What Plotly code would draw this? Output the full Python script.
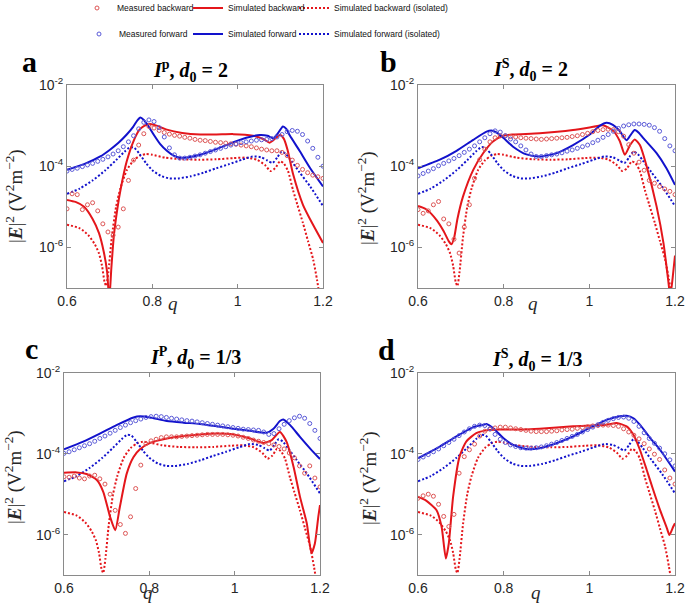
import plotly.graph_objects as go

# ---------------- data (values are log10 of |E|^2 in V^2 m^-2) ----------------
# measurement grid (q)
Q_MEAS = [0.600, 0.612, 0.624, 0.636, 0.648, 0.660, 0.672, 0.684, 0.696, 0.708,
          0.720, 0.732, 0.744, 0.756, 0.768, 0.780, 0.792, 0.804, 0.816, 0.828,
          0.840, 0.852, 0.864, 0.876, 0.888, 0.900, 0.912, 0.924, 0.936, 0.948,
          0.960, 0.972, 0.984, 0.996, 1.008, 1.020, 1.032, 1.044, 1.056, 1.068,
          1.080, 1.092, 1.104, 1.116, 1.128, 1.140, 1.152, 1.164, 1.176, 1.188,
          1.200]

# measured forward / backward, panels a-d
MF_A = [-4.12, -4.08, -4.05, -4.01, -3.97, -3.93, -3.88, -3.83, -3.77, -3.70,
        -3.62, -3.52, -3.40, -3.25, -3.08, -2.92, -2.86, -2.90, -3.05, -3.28,
        -3.55, -3.72, -3.80, -3.80, -3.78, -3.75, -3.72, -3.68, -3.64, -3.60,
        -3.56, -3.52, -3.48, -3.45, -3.42, -3.40, -3.38, -3.36, -3.35, -3.34,
        -3.32, -3.28, -3.22, -3.15, -3.12, -3.14, -3.22, -3.38, -3.56, -3.78,
        -4.00]
MB_A = [-5.05, -4.68, -4.70, -5.07, -4.95, -4.90, -5.10, -5.42, -5.62, -5.70,
        -5.50, -5.05, -4.35, -3.85, -3.48, -3.20, -3.02, -3.06, -3.12, -3.17,
        -3.21, -3.24, -3.26, -3.29, -3.31, -3.34, -3.36, -3.37, -3.39, -3.41,
        -3.42, -3.43, -3.45, -3.46, -3.48, -3.50, -3.52, -3.55, -3.58, -3.60,
        -3.62, -3.62, -3.66, -3.74, -3.85, -3.98, -4.08, -4.16, -4.22, -4.26,
        -4.30]
MF_B = [-4.24, -4.18, -4.12, -4.06, -3.99, -3.93, -3.87, -3.81, -3.74, -3.66,
        -3.58, -3.50, -3.40, -3.30, -3.20, -3.13, -3.16, -3.25, -3.33, -3.40,
        -3.50, -3.60, -3.70, -3.76, -3.76, -3.74, -3.72, -3.70, -3.67, -3.63,
        -3.60, -3.56, -3.52, -3.48, -3.42, -3.36, -3.29, -3.22, -3.14, -3.07,
        -3.01, -2.98, -2.96, -2.96, -2.97, -2.99, -3.05, -3.14, -3.32, -3.50,
        -3.62]
MB_B = [-5.07, -5.16, -5.10, -4.95, -4.87, -5.30, -5.42, -5.80, -6.14, -5.50,
        -4.95, -4.30, -3.84, -3.58, -3.40, -3.30, -3.25, -3.25, -3.27, -3.28,
        -3.30, -3.31, -3.32, -3.33, -3.34, -3.33, -3.32, -3.31, -3.30, -3.29,
        -3.27, -3.25, -3.22, -3.19, -3.15, -3.12, -3.10, -3.09, -3.10, -3.15,
        -3.26, -3.47, -3.68, -3.90, -4.10, -4.35, -4.42, -4.50, -4.56, -4.62,
        -4.70]
MF_C = [-3.99, -3.95, -3.90, -3.85, -3.80, -3.75, -3.69, -3.62, -3.56, -3.49,
        -3.42, -3.35, -3.29, -3.23, -3.18, -3.14, -3.10, -3.08, -3.07, -3.08,
        -3.10, -3.12, -3.14, -3.16, -3.18, -3.19, -3.21, -3.23, -3.25, -3.27,
        -3.29, -3.31, -3.33, -3.35, -3.37, -3.39, -3.40, -3.41, -3.42, -3.46,
        -3.52, -3.50, -3.38, -3.27, -3.18, -3.11, -3.07, -3.12, -3.25, -3.42,
        -3.62]
MB_C = [-4.57, -4.58, -4.55, -4.60, -4.62, -4.55, -4.53, -4.62, -4.75, -5.00,
        -5.40, -5.75, -5.97, -5.56, -4.86, -4.28, -3.75, -3.68, -3.64, -3.60,
        -3.58, -3.58, -3.58, -3.57, -3.56, -3.55, -3.54, -3.53, -3.52, -3.52,
        -3.52, -3.52, -3.53, -3.54, -3.56, -3.59, -3.62, -3.66, -3.69, -3.72,
        -3.75, -3.78, -3.82, -3.88, -3.98, -4.10, -4.30, -4.48, -4.30, -4.60,
        -4.82]
MF_D = [-4.14, -4.08, -4.02, -3.95, -3.88, -3.80, -3.72, -3.64, -3.55, -3.46,
        -3.38, -3.32, -3.29, -3.30, -3.38, -3.52, -3.64, -3.72, -3.78, -3.82,
        -3.85, -3.86, -3.86, -3.85, -3.83, -3.80, -3.76, -3.72, -3.67, -3.62,
        -3.57, -3.52, -3.46, -3.40, -3.34, -3.28, -3.22, -3.17, -3.13, -3.10,
        -3.09, -3.12, -3.20, -3.32, -3.48, -3.62, -3.74, -3.86, -4.00, -4.15,
        -4.30]
MB_D = [-5.10, -5.04, -5.00, -5.05, -5.25, -5.55, -5.80, -5.50, -4.48, -4.07,
        -3.90, -3.76, -3.56, -3.44, -3.39, -3.36, -3.34, -3.34, -3.36, -3.38,
        -3.40, -3.42, -3.44, -3.45, -3.45, -3.45, -3.44, -3.43, -3.41, -3.40,
        -3.39, -3.37, -3.35, -3.33, -3.31, -3.30, -3.29, -3.29, -3.30, -3.32,
        -3.38, -3.46, -3.54, -3.63, -3.75, -3.88, -4.01, -4.14, -4.40, -4.60,
        -4.75]

# simulated isolated particle (same in every panel)
Q_ISO_B = [0.600, 0.630, 0.650, 0.665, 0.675, 0.682, 0.688, 0.692, 0.697, 0.705,
           0.715, 0.725, 0.740, 0.756, 0.771, 0.785, 0.800, 0.830, 0.870, 0.910,
           0.950, 0.990, 1.020, 1.045, 1.065, 1.077, 1.088, 1.099, 1.108, 1.118,
           1.130, 1.140, 1.153, 1.165, 1.177, 1.186, 1.192]
ISO_B = [-5.44, -5.53, -5.70, -5.92, -6.15, -6.45, -6.85, -6.95, -6.60, -5.75,
         -5.00, -4.55, -4.10, -3.86, -3.74, -3.70, -3.72, -3.79, -3.83, -3.84,
         -3.83, -3.80, -3.79, -3.84, -3.98, -4.12, -4.05, -3.88, -3.93, -4.12,
         -4.60, -4.95, -5.40, -5.85, -6.30, -6.80, -7.20]
Q_ISO_F = [0.600, 0.630, 0.660, 0.690, 0.715, 0.735, 0.748, 0.758, 0.770, 0.785,
           0.800, 0.820, 0.840, 0.860, 0.890, 0.920, 0.950, 0.980, 1.010, 1.035,
           1.055, 1.070, 1.082, 1.093, 1.103, 1.113, 1.125, 1.145, 1.170, 1.200]
ISO_F = [-4.68, -4.55, -4.35, -4.10, -3.85, -3.64, -3.53, -3.55, -3.70, -3.92,
         -4.10, -4.24, -4.30, -4.30, -4.25, -4.16, -4.05, -3.95, -3.84, -3.76,
         -3.78, -3.86, -3.92, -3.78, -3.64, -3.70, -3.86, -4.15, -4.50, -4.98]

# simulated forward / backward (coupled), panels a-d
Q_SF_A = [0.600, 0.640, 0.678, 0.700, 0.720, 0.740, 0.755, 0.765, 0.772, 0.780,
          0.790, 0.803, 0.818, 0.834, 0.850, 0.865, 0.885, 0.912, 0.950, 0.990,
          1.020, 1.052, 1.070, 1.083, 1.095, 1.106, 1.114, 1.122, 1.145, 1.170,
          1.200]
SF_A = [-4.09, -3.95, -3.76, -3.60, -3.43, -3.22, -3.03, -2.87, -2.80, -2.86,
        -3.00, -3.22, -3.45, -3.62, -3.74, -3.79, -3.78, -3.72, -3.58, -3.41,
        -3.30, -3.23, -3.25, -3.31, -3.18, -3.02, -3.08, -3.24, -3.62, -4.05,
        -4.50]
Q_SB_A = [0.600, 0.620, 0.640, 0.660, 0.675, 0.686, 0.694, 0.699, 0.704, 0.710,
          0.718, 0.726, 0.740, 0.756, 0.770, 0.782, 0.795, 0.810, 0.834, 0.870,
          0.912, 0.950, 0.990, 1.036, 1.060, 1.075, 1.090, 1.099, 1.108, 1.117,
          1.130, 1.153, 1.177, 1.200]
SB_A = [-4.83, -4.88, -5.00, -5.30, -5.65, -6.10, -6.60, -7.30, -6.50, -5.70,
        -5.05, -4.55, -3.88, -3.38, -3.10, -3.00, -2.96, -3.00, -3.10, -3.18,
        -3.22, -3.22, -3.21, -3.25, -3.33, -3.42, -3.30, -3.23, -3.32, -3.60,
        -4.20, -4.95, -5.45, -5.89]

Q_SF_B = [0.600, 0.651, 0.690, 0.729, 0.760, 0.771, 0.782, 0.799, 0.822, 0.853,
          0.884, 0.923, 0.962, 1.001, 1.025, 1.040, 1.055, 1.070, 1.087, 1.097,
          1.106, 1.116, 1.126, 1.157, 1.180, 1.200]
SF_B = [-4.05, -3.84, -3.62, -3.35, -3.15, -3.12, -3.16, -3.30, -3.52, -3.71,
        -3.76, -3.68, -3.48, -3.22, -3.00, -2.93, -2.98, -3.12, -3.36, -3.22,
        -3.11, -3.18, -3.31, -3.68, -4.05, -4.46]
Q_SB_B = [0.600, 0.619, 0.643, 0.660, 0.672, 0.678, 0.684, 0.692, 0.705, 0.729,
          0.752, 0.775, 0.799, 0.822, 0.884, 0.962, 1.009, 1.032, 1.056, 1.071,
          1.083, 1.095, 1.106, 1.118, 1.134, 1.157, 1.173, 1.184, 1.189, 1.195,
          1.200]
SB_B = [-4.98, -5.06, -5.32, -5.60, -5.85, -5.92, -5.78, -5.30, -4.75, -4.09,
        -3.68, -3.39, -3.25, -3.22, -3.19, -3.11, -3.03, -2.99, -3.13, -3.38,
        -3.72, -3.48, -3.34, -3.48, -4.01, -4.99, -5.89, -6.80, -7.20, -6.70,
        -6.20]

Q_SF_C = [0.600, 0.645, 0.684, 0.723, 0.763, 0.778, 0.802, 0.841, 0.880, 0.919,
          0.958, 0.997, 1.036, 1.075, 1.091, 1.106, 1.114, 1.130, 1.153, 1.177,
          1.200]
SF_C = [-3.89, -3.70, -3.50, -3.29, -3.10, -3.07, -3.10, -3.19, -3.23, -3.26,
        -3.32, -3.38, -3.43, -3.48, -3.38, -3.19, -3.15, -3.29, -3.58, -3.87,
        -4.13]
Q_SB_C = [0.600, 0.630, 0.653, 0.677, 0.692, 0.708, 0.720, 0.731, 0.747, 0.763,
          0.778, 0.802, 0.841, 0.880, 0.919, 0.958, 0.997, 1.036, 1.067, 1.087,
          1.106, 1.122, 1.138, 1.153, 1.169, 1.180, 1.188, 1.196, 1.200]
SB_C = [-4.47, -4.46, -4.50, -4.65, -4.94, -5.56, -5.89, -5.31, -4.49, -4.08,
        -3.89, -3.73, -3.62, -3.56, -3.52, -3.50, -3.52, -3.62, -3.73, -3.66,
        -3.46, -3.71, -4.32, -5.06, -5.72, -6.46, -6.22, -5.56, -5.27]

Q_SF_D = [0.600, 0.651, 0.690, 0.729, 0.752, 0.760, 0.775, 0.799, 0.822, 0.853,
          0.884, 0.923, 0.962, 1.001, 1.040, 1.071, 1.087, 1.103, 1.118, 1.142,
          1.165, 1.200]
SF_D = [-4.11, -3.82, -3.57, -3.34, -3.28, -3.26, -3.36, -3.61, -3.78, -3.88,
        -3.86, -3.74, -3.57, -3.36, -3.16, -3.07, -3.06, -3.12, -3.28, -3.61,
        -3.90, -4.44]
Q_SB_D = [0.600, 0.619, 0.643, 0.655, 0.665, 0.672, 0.682, 0.697, 0.713, 0.736,
          0.760, 0.791, 0.845, 0.884, 0.962, 1.040, 1.064, 1.087, 1.103, 1.118,
          1.134, 1.149, 1.165, 1.181, 1.187, 1.196, 1.200]
SB_D = [-5.07, -5.16, -5.39, -5.80, -6.59, -6.21, -5.06, -4.07, -3.69, -3.49,
        -3.42, -3.40, -3.40, -3.38, -3.32, -3.28, -3.24, -3.32, -3.53, -3.90,
        -4.40, -4.89, -5.39, -5.84, -6.01, -5.80, -5.72]

X_TICKS = [0.6, 0.8, 1.0, 1.2]
X_TICKTEXT = ["0.6", "0.8", "1", "1.2"]
Y_TICKS = [1e-6, 1e-4, 1e-2]
Y_TICKTEXT = ["10<sup>-6</sup>", "10<sup>-4</sup>", "10<sup>-2</sup>"]

TITLES = ["<b><i>I</i><sup>p</sup>, <i>d</i><sub>0</sub> = 2</b>",
          "<b><i>I</i><sup>S</sup>, <i>d</i><sub>0</sub> = 2</b>",
          "<b><i>I</i><sup>P</sup>, <i>d</i><sub>0</sub> = 1/3</b>",
          "<b><i>I</i><sup>S</sup>, <i>d</i><sub>0</sub> = 1/3</b>"]
LETTERS = ["a", "b", "c", "d"]
LEGEND_NAMES = ["Measured backward", "Simulated backward", "Simulated backward (isolated)",
                "Measured forward", "Simulated forward", "Simulated forward (isolated)"]

# ---------------- styling / layout ----------------
W, H = 685, 607
RED = "#e4161b"
BLUE = "#1212cc"
RED_M = "#dd5555"
BLUE_M = "#5a5ad8"
SANS = "Liberation Sans, Arial, sans-serif"
SERIF = "Liberation Serif, Times New Roman, serif"
DOT = "2px,2px"


def px(x):
    return x / W


def py(y):
    return 1 - y / H


# panel boxes in pixels: left, right, top, bottom
BOXES = [(67, 323, 85, 288), (418, 675, 85, 288), (64, 320, 373, 575), (418, 675, 373, 575)]
TITLE_POS = [(190, 71), (530, 70), (195, 358), (537, 360)]
LETTER_POS = [(29, 61), (388, 61), (31, 348), (387, 349)]
YLAB_POS = [(14, 196), (367, 198), (13, 477), (368, 478)]
QLAB_POS = [(173, 303), (533, 303), (148, 592), (536, 592)]

panels = [
    (MF_A, MB_A, Q_SF_A, SF_A, Q_SB_A, SB_A),
    (MF_B, MB_B, Q_SF_B, SF_B, Q_SB_B, SB_B),
    (MF_C, MB_C, Q_SF_C, SF_C, Q_SB_C, SB_C),
    (MF_D, MB_D, Q_SF_D, SF_D, Q_SB_D, SB_D),
]

fig = go.Figure()
layout = dict(
    width=W, height=H, margin=dict(l=0, r=0, t=0, b=0, autoexpand=False),
    paper_bgcolor="white", plot_bgcolor="white",
    font=dict(family=SANS, size=13, color="#262626"),
    showlegend=True,
)

# legend box left edge (px) and row centre (px)
legend_cfg = [
    (77, 8), (188, 8), (294, 8),
    (79, 34), (188, 34), (294, 34),
]

annotations = []
for i, (mf, mb, qsf, sf, qsb, sb) in enumerate(panels):
    k = "" if i == 0 else str(i + 1)
    xa, ya = "x" + k, "y" + k
    first = i == 0

    def lg(j):
        return "legend" if j == 0 else "legend%d" % (j + 1)

    # isolated (dotted)
    fig.add_trace(go.Scatter(x=Q_ISO_B, y=[10 ** v for v in ISO_B], mode="lines",
                             line=dict(color=RED, width=2, dash=DOT, shape="spline", smoothing=0.6),
                             name=LEGEND_NAMES[2], legend=lg(2), showlegend=first,
                             xaxis=xa, yaxis=ya))
    fig.add_trace(go.Scatter(x=Q_ISO_F, y=[10 ** v for v in ISO_F], mode="lines",
                             line=dict(color=BLUE, width=2, dash=DOT, shape="spline", smoothing=0.6),
                             name=LEGEND_NAMES[5], legend=lg(5), showlegend=first,
                             xaxis=xa, yaxis=ya))
    # coupled (solid)
    fig.add_trace(go.Scatter(x=qsb, y=[10 ** v for v in sb], mode="lines",
                             line=dict(color=RED, width=2, shape="spline", smoothing=0.6),
                             name=LEGEND_NAMES[1], legend=lg(1), showlegend=first,
                             xaxis=xa, yaxis=ya))
    fig.add_trace(go.Scatter(x=qsf, y=[10 ** v for v in sf], mode="lines",
                             line=dict(color=BLUE, width=2, shape="spline", smoothing=0.6),
                             name=LEGEND_NAMES[4], legend=lg(4), showlegend=first,
                             xaxis=xa, yaxis=ya))
    # measured (open circles)
    fig.add_trace(go.Scatter(x=Q_MEAS, y=[10 ** v for v in mb], mode="markers",
                             marker=dict(symbol="circle-open", size=4, color=RED_M, line=dict(width=1)),
                             name=LEGEND_NAMES[0], legend=lg(0), showlegend=first,
                             xaxis=xa, yaxis=ya))
    fig.add_trace(go.Scatter(x=Q_MEAS, y=[10 ** v for v in mf], mode="markers",
                             marker=dict(symbol="circle-open", size=4, color=BLUE_M, line=dict(width=1)),
                             name=LEGEND_NAMES[3], legend=lg(3), showlegend=first,
                             xaxis=xa, yaxis=ya))

    l, r, t, b = BOXES[i]
    axcommon = dict(showline=True, linecolor="#8a8a8a", linewidth=1, mirror="ticks",
                    ticks="inside", ticklen=4, tickcolor="#8a8a8a", showgrid=False,
                    zeroline=False, tickfont=dict(family=SANS, size=14, color="#262626"))
    layout["xaxis" + k] = dict(domain=[px(l), px(r)], range=[0.6, 1.2], anchor=ya,
                               tickvals=X_TICKS, ticktext=X_TICKTEXT, **axcommon)
    layout["yaxis" + k] = dict(domain=[py(b), py(t)], range=[-7, -2], type="log", anchor=xa,
                               tickvals=Y_TICKS, ticktext=Y_TICKTEXT, **axcommon)

    tx, ty = TITLE_POS[i]
    annotations.append(dict(text=TITLES[i], x=px(tx), y=py(ty), xref="paper", yref="paper",
                            showarrow=False, xanchor="center", yanchor="middle",
                            font=dict(family=SERIF, size=20, color="black")))
    lx, lyy = LETTER_POS[i]
    annotations.append(dict(text="<b>%s</b>" % LETTERS[i], x=px(lx), y=py(lyy), xref="paper",
                            yref="paper", showarrow=False, xanchor="center", yanchor="middle",
                            font=dict(family=SERIF, size=30, color="black")))
    yx, yy = YLAB_POS[i]
    annotations.append(dict(text="|<b><i>E</i></b>|<sup>2</sup> (V<sup>2</sup>m<sup>\u22122</sup>)",
                            x=px(yx), y=py(yy), xref="paper", yref="paper", textangle=-90,
                            showarrow=False, xanchor="center", yanchor="middle",
                            font=dict(family=SERIF, size=19, color="#262626")))
    qx, qy = QLAB_POS[i]
    annotations.append(dict(text="<i>q</i>", x=px(qx), y=py(qy), xref="paper", yref="paper",
                            showarrow=False, xanchor="center", yanchor="middle",
                            font=dict(family=SERIF, size=19, color="#262626")))

layout["annotations"] = annotations
for j, (lxp, lyp) in enumerate(legend_cfg):
    key = "legend" if j == 0 else "legend%d" % (j + 1)
    layout[key] = dict(x=px(lxp), y=py(lyp), xanchor="left", yanchor="middle",
                       bgcolor="rgba(0,0,0,0)", borderwidth=0, itemwidth=30,
                       font=dict(family=SANS, size=8.5, color="#111111"))

fig.update_layout(**layout)
# the page body has a default 8px margin; remove it so the figure fills the window
fig.write_html("out.html", config={"displayModeBar": False},
               post_script="document.body.style.margin='0';document.body.style.padding='0';")
